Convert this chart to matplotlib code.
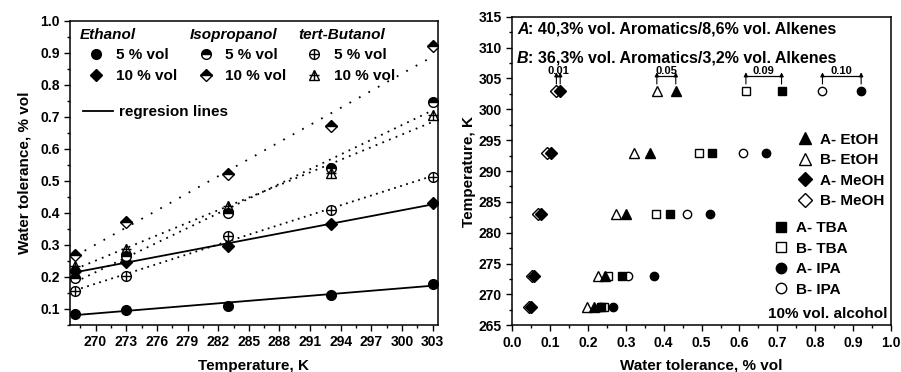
import numpy as np
import matplotlib
matplotlib.use("Agg")
import matplotlib.pyplot as plt
from matplotlib.lines import Line2D
from matplotlib.ticker import MultipleLocator

plt.rcParams["font.family"] = ["Liberation Sans", "DejaVu Sans"]
plt.rcParams["font.weight"] = "bold"
plt.rcParams["axes.labelweight"] = "bold"
plt.rcParams["font.size"] = 10

# left panel: water tolerance vs temperature
temps = [268, 273, 283, 293, 303]
eth_5 = [0.085, 0.095, 0.110, 0.143, 0.178]
eth_10 = [0.218, 0.245, 0.297, 0.365, 0.430]
iso_5 = [0.195, 0.265, 0.400, 0.540, 0.745]
iso_10 = [0.268, 0.372, 0.520, 0.670, 0.920]
tba_5 = [0.155, 0.203, 0.327, 0.410, 0.512]
tba_10 = [0.235, 0.287, 0.420, 0.525, 0.705]

# right panel: 10% vol. alcohol in gasolines A and B
temps_r = [268, 273, 283, 293, 303]
a_etoh = [0.217, 0.245, 0.301, 0.364, 0.432]
b_etoh = [0.197, 0.228, 0.274, 0.322, 0.382]
a_meoh = [0.050, 0.057, 0.076, 0.103, 0.127]
b_meoh = [0.045, 0.052, 0.069, 0.091, 0.117]
a_tba = [0.235, 0.289, 0.417, 0.527, 0.711]
b_tba = [0.242, 0.254, 0.379, 0.494, 0.617]
a_ipa = [0.267, 0.375, 0.522, 0.670, 0.921]
b_ipa = [0.232, 0.307, 0.461, 0.610, 0.819]

fig = plt.figure(figsize=(9.01, 3.72), dpi=100)
ax1 = fig.add_axes([0.0777, 0.127, 0.4083, 0.817])
ax2 = fig.add_axes([0.5683, 0.1255, 0.4207, 0.8295])

t = np.array(temps, dtype=float)
t_ends = np.array([t.min(), t.max()])


def reg_line(ax, vals, ls):
    k, b = np.polyfit(t, vals, 1)
    ax.plot(t_ends, k * t_ends + b, color="black", lw=1.3, ls=ls, zorder=2)


reg_line(ax1, eth_5, "-")
reg_line(ax1, eth_10, "-")
reg_line(ax1, iso_5, (0, (1, 3)))
reg_line(ax1, iso_10, (0, (1, 5)))
reg_line(ax1, tba_5, (0, (1, 2.5)))
reg_line(ax1, tba_10, (0, (1, 3)))

mk = dict(color="black", ls="none", zorder=3)
h_e5, = ax1.plot(temps, eth_5, marker="o", ms=7, **mk)
h_e10, = ax1.plot(temps, eth_10, marker="D", ms=6.5, **mk)
h_i5, = ax1.plot(temps, iso_5, marker="o", ms=7, fillstyle="top",
                 markerfacecoloralt="white", mec="black", mew=1, **mk)
h_i10, = ax1.plot(temps, iso_10, marker="D", ms=6.5, fillstyle="top",
                  markerfacecoloralt="white", mec="black", mew=1, **mk)
h_t5a, = ax1.plot(temps, tba_5, marker="o", ms=7, mfc="white", mew=1, **mk)
h_t5b, = ax1.plot(temps, tba_5, marker="+", ms=7, mew=1, **mk)
h_t10a, = ax1.plot(temps, tba_10, marker="^", ms=7, mfc="none", mew=1, **mk)
h_t10b, = ax1.plot(temps, tba_10, marker="+", ms=7, mew=1, **mk)

ax1.set_xlim(267.5, 303.5)
ax1.set_ylim(0.05, 1.0)
ax1.xaxis.set_major_locator(MultipleLocator(3))
ax1.xaxis.set_minor_locator(MultipleLocator(1.5))
ax1.yaxis.set_major_locator(MultipleLocator(0.1))
ax1.yaxis.set_minor_locator(MultipleLocator(0.05))
ax1.set_xlabel("Temperature, K", fontsize=11, labelpad=7)
ax1.set_ylabel("Water tolerance, % vol", fontsize=11, labelpad=6)

leg_kw = dict(loc="upper left", frameon=False, fontsize=11, borderpad=0,
              borderaxespad=0, handlelength=2.1, handletextpad=0.25,
              labelspacing=0.45, alignment="left",
              title_fontproperties={"size": 11, "weight": "bold",
                                    "style": "italic"})
groups = [("Ethanol", [h_e5, h_e10], 0.027),
          ("Isopropanol", [h_i5, h_i10], 0.325),
          ("tert-Butanol", [(h_t5a, h_t5b), (h_t10a, h_t10b)], 0.62)]
for title, hs, x0 in groups:
    lg = ax1.legend(hs, ["5 % vol", "10 % vol"], title=title,
                    bbox_to_anchor=(x0, 0.978), **leg_kw)
    lg._legend_box.sep = 5
    ax1.add_artist(lg)
ax1.legend([Line2D([], [], color="black", lw=1.3)], ["regresion lines"],
           loc="upper left", bbox_to_anchor=(0.035, 0.722), frameon=False,
           fontsize=11, borderpad=0, borderaxespad=0, handlelength=2.0,
           handletextpad=0.35)

# right panel
ms_r = 6
open_kw = dict(color="black", ls="none", mfc="white", mew=1, ms=ms_r, zorder=3)
fill_kw = dict(color="black", ls="none", ms=ms_r, zorder=4)
ha_e, = ax2.plot(a_etoh, temps_r, marker="^", **dict(fill_kw, ms=7))
hb_e, = ax2.plot(b_etoh, temps_r, marker="^", **dict(open_kw, ms=7))
ha_m, = ax2.plot(a_meoh, temps_r, marker="D", **fill_kw)
hb_m, = ax2.plot(b_meoh, temps_r, marker="D", **open_kw)
ha_t, = ax2.plot(a_tba, temps_r, marker="s", **fill_kw)
hb_t, = ax2.plot(b_tba, temps_r, marker="s", **open_kw)
ha_i, = ax2.plot(a_ipa, temps_r, marker="o", **fill_kw)
hb_i, = ax2.plot(b_ipa, temps_r, marker="o", **open_kw)

# difference brackets at 303 K
for a_vals, b_vals in [(a_meoh, b_meoh), (a_etoh, b_etoh),
                       (a_tba, b_tba), (a_ipa, b_ipa)]:
    xa, xb = a_vals[-1], b_vals[-1]
    for x in (xa, xb):
        ax2.annotate("", xy=(x, 306.0), xytext=(x, 304.1),
                     arrowprops=dict(arrowstyle="-|>", color="black",
                                     lw=0.8, mutation_scale=6,
                                     shrinkA=0, shrinkB=0))
    ax2.plot([xb, xa], [305.4, 305.4], color="black", lw=0.9)
    ax2.text((xa + xb) / 2, 305.75, f"{xa - xb:.2f}", ha="center",
             va="baseline", fontsize=8)

ax2.set_xlim(0, 1.0)
ax2.set_ylim(265, 315)
ax2.xaxis.set_major_locator(MultipleLocator(0.1))
ax2.xaxis.set_minor_locator(MultipleLocator(0.05))
ax2.yaxis.set_major_locator(MultipleLocator(5))
ax2.yaxis.set_minor_locator(MultipleLocator(2.5))
ax2.set_xlabel("Water tolerance, % vol", fontsize=11, labelpad=6)
ax2.set_ylabel("Temperature, K", fontsize=11, labelpad=2)

r_kw = dict(loc="upper left", frameon=False, fontsize=11, borderpad=0,
            borderaxespad=0, handlelength=1.0, handletextpad=0.5,
            labelspacing=0.42, markerscale=1.25)
lg1 = ax2.legend([ha_e, hb_e, ha_m, hb_m],
                 ["A- EtOH", "B- EtOH", "A- MeOH", "B- MeOH"],
                 bbox_to_anchor=(0.752, 0.624), **r_kw)
ax2.add_artist(lg1)
ax2.legend([ha_t, hb_t, ha_i, hb_i],
           ["A- TBA", "B- TBA", "A- IPA", "B- IPA"],
           bbox_to_anchor=(0.69, 0.337), **r_kw)
ax2.text(0.99, 0.038, "10% vol. alcohol", transform=ax2.transAxes,
         ha="right", va="center", fontsize=11)

for y, lab, rest in [(0.96, "A", ": 40,3% vol. Aromatics/8,6% vol. Alkenes"),
                     (0.866, "B", ": 36,3% vol. Aromatics/3,2% vol. Alkenes")]:
    tl = ax2.text(0.013, y, lab, transform=ax2.transAxes, ha="left",
                  va="center", fontsize=11.5, style="italic")
    ax2.annotate(rest, xy=(1, 0), xycoords=tl, ha="left", va="bottom",
                 fontsize=11.5)

for ax in (ax1, ax2):
    ax.tick_params(which="both", direction="out", top=False, right=False,
                   width=1, labelsize=10)
    ax.tick_params(which="major", length=4)
    ax.tick_params(which="minor", length=2.5)
    for s in ax.spines.values():
        s.set_linewidth(1.1)

fig.savefig("out.png", dpi=100)
